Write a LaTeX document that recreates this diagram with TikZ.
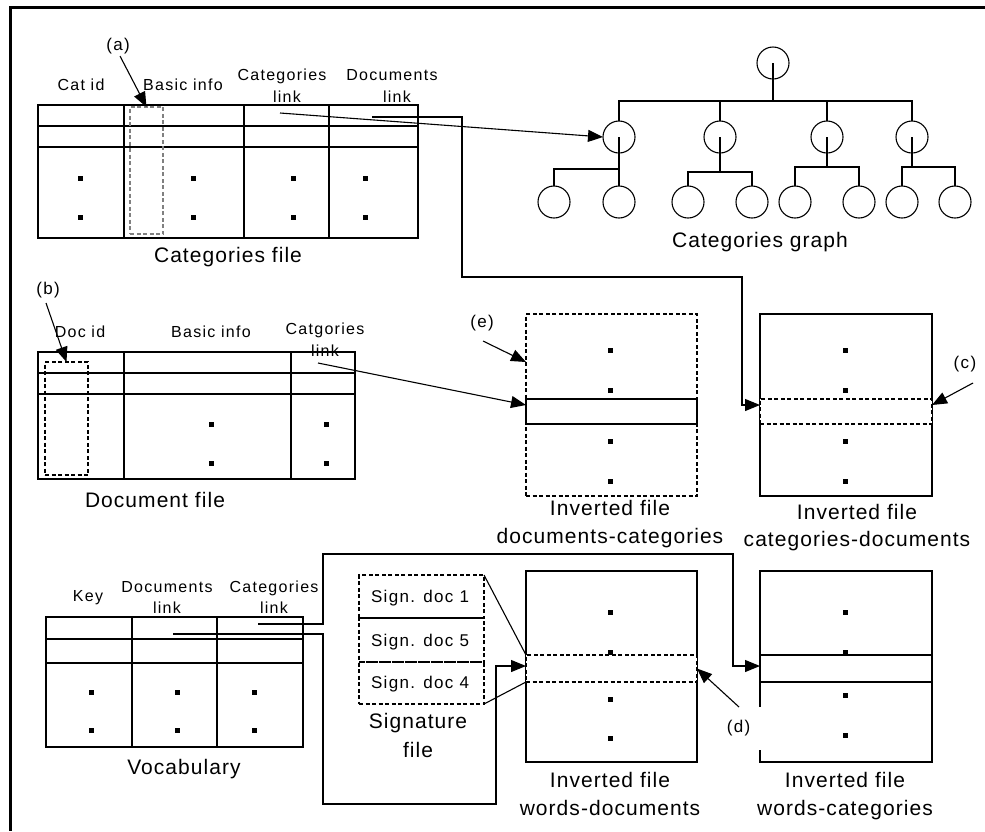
\documentclass[tikz,border=0pt]{standalone}
\usepackage{fontspec}
\setmainfont{Liberation Sans}
\newfontfamily\lblfont[LetterSpace=8]{Liberation Sans}
\newfontfamily\bigfont[LetterSpace=5]{Liberation Sans}
\usetikzlibrary{arrows.meta,calc}
\begin{document}
\begin{tikzpicture}[x=1pt,y=-1pt,
  every node/.style={inner sep=0pt, outer sep=0pt},
  hdr/.style={anchor=base, font=\lblfont\fontsize{16}{18}\selectfont},
  big/.style={anchor=base, font=\bigfont\fontsize{21}{24}\selectfont},
  tag/.style={anchor=base, font=\lblfont\fontsize{17}{19}\selectfont},
  sig/.style={anchor=base, font=\lblfont\fontsize{17}{19}\selectfont},
  tbl/.style={line width=1.2pt},
  conn/.style={line width=1.1pt},
  arr/.style={conn, -{Triangle[length=15pt,width=12pt]}},
  dsh/.style={dash pattern=on 4pt off 2.5pt, line width=1.1pt},
  cat/.style={circle, draw, line width=1.1pt, minimum size=32pt},
  thk/.style={line width=2.4pt}
]
\useasboundingbox (0,0) rectangle (985,831);
% frame
\draw[line width=3pt] (985,7) -- (10,7) -- (10,831);

% ---------- Categories file ----------
\draw[tbl] (38,105) rectangle (418,238);
\draw[tbl] (38,126) -- (418,126) (38,147) -- (418,147);
\draw[tbl] (124,105) -- (124,238) (244,105) -- (244,238) (329,105) -- (329,238);
\foreach \x in {80,193,293,365} \foreach \y in {178,217} \fill (\x-2.5,\y-2.5) rectangle ++(5,5);
\node[draw=gray, dsh, minimum width=33pt, minimum height=127pt] (abox) at (146.5,170.5) {};
\node[hdr] (h1) at (81,90) {Cat id};
\node[hdr] (h2) at (183,90) {Basic info};
\node[hdr] (h3) at (282,80) {Categories};
\node[hdr] (h3b) at (287,102) {link};
\node[hdr] (h4) at (392,80) {Documents};
\node[hdr] (h4b) at (397,102) {link};
\node[big] (t1) at (228,262) {Categories file};
\node[tag] (la) at (118,50) {(a)};
\coordinate (la0) at (120,56);
\draw[arr] (la0) -- (abox.north);

% ---------- Categories graph ----------
\node[cat] (r) at (773,63) {};
\node[cat] (c1) at (619,137) {};
\node[cat] (c2) at (720,137) {};
\node[cat] (c3) at (827,137) {};
\node[cat] (c4) at (912,137) {};
\node[cat] (g11) at (554,202) {};
\node[cat] (g12) at (619,202) {};
\node[cat] (g21) at (688,202) {};
\node[cat] (g22) at (752,202) {};
\node[cat] (g31) at (795,202) {};
\node[cat] (g32) at (859,202) {};
\node[cat] (g41) at (902,202) {};
\node[cat] (g42) at (955,202) {};
\coordinate (bus) at (773,101);
\draw[conn] (r.center) -- (bus);
\draw[conn] (c1.north) |- (bus) -| (c4.north);
\draw[conn] (c2.north) -- (c2.north |- bus);
\draw[conn] (c3.north) -- (c3.north |- bus);
\coordinate (b1) at (619,169);
\coordinate (b2) at (720,172);
\coordinate (b3) at (827,167);
\coordinate (b4) at (912,167);
\draw[thk] (c1.center) -- (b1);
\draw[thk] (c2.center) -- (b2);
\draw[thk] (c3.center) -- (b3);
\draw[thk] (c4.center) -- (b4);
\draw[conn] (g11.north) |- (b1) -- (g12.north);
\draw[conn] (g21.north) |- (b2) -| (g22.north);
\draw[conn] (g31.north) |- (b3) -| (g32.north);
\draw[conn] (g41.north) |- (b4) -| (g42.north);
\node[big] (t2) at (760,247) {Categories graph};

% ---------- Document file ----------
\draw[tbl] (38,352) rectangle (355,479);
\draw[tbl] (38,373) -- (355,373) (38,394) -- (355,394);
\draw[tbl] (124,352) -- (124,479) (291,352) -- (291,479);
\foreach \x in {211,326} \foreach \y in {424,463} \fill (\x-2.5,\y-2.5) rectangle ++(5,5);
\node[draw, dsh, minimum width=43pt, minimum height=113pt] (bbox) at (66.5,418.5) {};
\node[hdr] (h5) at (80,337) {Doc id};
\node[hdr] (h6) at (211,337) {Basic info};
\node[hdr] (h7) at (325,334) {Catgories};
\node[hdr] (h7b) at (325,356) {link};
\node[big] (t3) at (155,507) {Document file};
\node[tag] (lb) at (48,294) {(b)};
\coordinate (lb0) at (46,303);
\draw[arr] (lb0) -- (bbox.north);

% ---------- Inverted file documents-categories ----------
\node[draw, dsh, minimum width=171pt, minimum height=182pt] (dc) at (611.5,405) {};
\node[draw, tbl, fill=white, minimum width=171pt, minimum height=25pt] (dcrow) at (611.5,411.5) {};
% ---------- Inverted file categories-documents ----------
\node[draw, tbl, minimum width=172pt, minimum height=182pt] (cd) at (846,405) {};
\node[draw, dsh, fill=white, minimum width=172pt, minimum height=25pt] (cdrow) at (846,411.5) {};
\foreach \y in {350,390,441,481} {\fill (610-2.5,\y-2.5) rectangle ++(5,5); \fill (845-2.5,\y-2.5) rectangle ++(5,5);}
\node[big] (t4) at (610,515) {Inverted file};
\node[big] (t4b) at (610,543) {documents-categories};
\node[big] (t5) at (857,519) {Inverted file};
\node[big] (t5b) at (857,546) {categories-documents};

\coordinate (clk) at (280,113);
\draw[arr] (clk) -- (c1.west);
\coordinate (dlk) at (372,117);
\draw[arr] (dlk) -- (462,117) -- (462,277) -- (742,277) -- (742,405) -- ([yshift=6.5pt]cdrow.west);
\coordinate (cglk) at (318,363);
\draw[arr] (cglk) -- ([yshift=6.5pt]dcrow.west);
\node[tag] (le) at (482,327) {(e)};
\coordinate (le0) at (483,341);
\draw[arr] (le0) -- ([yshift=43pt]dc.west);
\node[tag] (lc) at (965,368) {(c)};
\coordinate (lc0) at (973,383);
\draw[arr] (lc0) -- ([yshift=6.5pt]cdrow.east);

% ---------- Vocabulary ----------
\draw[tbl] (46,617) rectangle (303,747);
\draw[tbl] (46,639) -- (303,639) (46,663) -- (303,663);
\draw[tbl] (132,617) -- (132,747) (217,617) -- (217,747);
\foreach \x in {91,177,254} \foreach \y in {692,730} \fill (\x-2.5,\y-2.5) rectangle ++(5,5);
\node[hdr] (h8) at (88,601) {Key};
\node[hdr] (h9) at (167,592) {Documents};
\node[hdr] (h9b) at (167,613) {link};
\node[hdr] (h10) at (274,592) {Categories};
\node[hdr] (h10b) at (274,613) {link};
\node[big] (t6) at (184,774) {Vocabulary};

% ---------- Signature file ----------
\node[draw, dsh, minimum width=125pt, minimum height=43pt] (sig1) at (421.5,596.5) {};
\node[draw, dsh, minimum width=125pt, minimum height=44pt] (sig2) at (421.5,640) {};
\node[draw, dsh, minimum width=125pt, minimum height=42pt] (sig3) at (421.5,683) {};
\node[sig] (s1) at (420,602) {Sign. doc 1};
\node[sig] (s2) at (420,646) {Sign. doc 5};
\node[sig] (s3) at (420,688) {Sign. doc 4};
\node[big] (t7) at (418,728) {Signature};
\node[big] (t7b) at (418,757) {file};

% ---------- Inverted file words-documents ----------
\node[draw, tbl, minimum width=171pt, minimum height=191pt] (wd) at (611.5,666.5) {};
\node[draw, dsh, fill=white, minimum width=171pt, minimum height=27pt] (wdrow) at (611.5,668.5) {};
% ---------- Inverted file words-categories ----------
\node[draw, tbl, minimum width=172pt, minimum height=191pt] (wc) at (846,666.5) {};
\node[draw, tbl, fill=white, minimum width=172pt, minimum height=27pt] (wcrow) at (846,668.5) {};
\foreach \y in {612,652,699,738} \fill (610-2.5,\y-2.5) rectangle ++(5,5);
\foreach \y in {612,652,695,735} \fill (845-2.5,\y-2.5) rectangle ++(5,5);
\node[big] (t8) at (610,787) {Inverted file};
\node[big] (t8b) at (610,815) {words-documents};
\node[big] (t9) at (845,787) {Inverted file};
\node[big] (t9b) at (845,815) {words-categories};

\draw[conn] (sig1.north east) -- (wdrow.north west);
\draw[conn] (sig3.south east) -- (wdrow.south west);

\coordinate (vck) at (258,624);
\draw[arr] (vck) -- (323,624) -- (323,554) -- (733,554) -- (733,666) -- ([yshift=2.5pt]wcrow.west);
\coordinate (vdk) at (173,634);
\draw[arr] (vdk) -- (323,634) -- (323,804) -- (496,804) -- (496,666) -- ([yshift=2.5pt]wdrow.west);

\node[tag, fill=white, minimum width=48pt, minimum height=43pt, anchor=center] (ld) at (738.5,728.5) {(d)};
\coordinate (ld0) at (739,707);
\draw[arr] (ld0) -- (wdrow.east);
\end{tikzpicture}
\end{document}
